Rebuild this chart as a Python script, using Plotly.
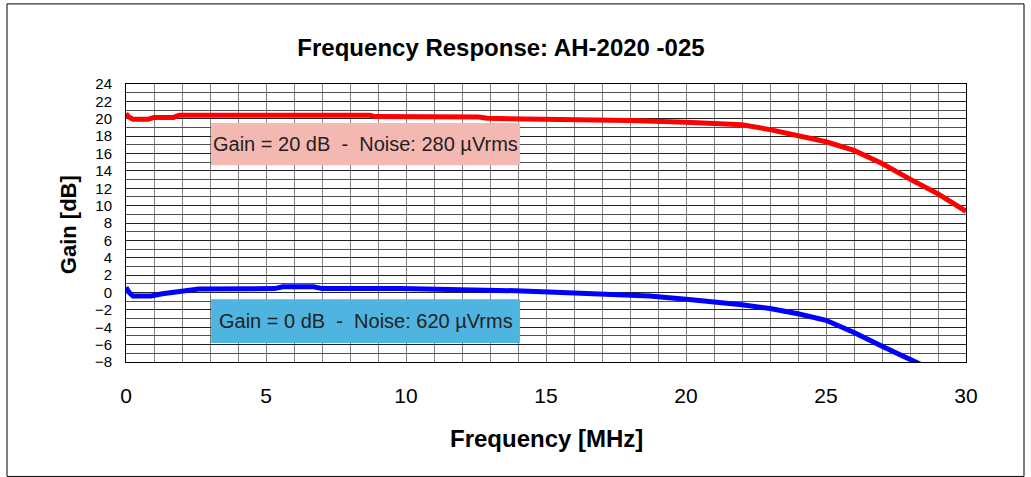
import plotly.graph_objects as go

# Data
freq_red = [0, 0.1, 0.25, 0.8, 1.0, 1.7, 1.9, 8.7, 8.9, 12.6, 12.9, 16.0, 18.0, 20.0,
            21.0, 22.0, 23.0, 24.0, 25.0, 26.0, 27.0, 28.0, 29.0, 30.0]
gain_red = [20.6, 20.2, 19.95, 19.95, 20.15, 20.15, 20.4, 20.4, 20.25, 20.2, 20.05, 19.95, 19.8, 19.6,
            19.45, 19.3, 18.75, 18.05, 17.35, 16.35, 14.85, 13.05, 11.35, 9.35]

freq_blue = [0, 0.1, 0.25, 0.9, 1.3, 1.9, 2.6, 5.3, 5.6, 6.7, 7.0, 9.8, 12.1, 13.9, 15.1,
             16.9, 18.7, 20.1, 21.0, 22.0, 23.0, 24.0, 25.0, 26.0, 27.0, 28.0, 28.6]
gain_blue = [0.6, 0.05, -0.4, -0.4, -0.15, 0.05, 0.4, 0.45, 0.65, 0.65, 0.45, 0.45, 0.35, 0.2, 0.05,
             -0.15, -0.4, -0.8, -1.05, -1.4, -1.85, -2.45, -3.2, -4.6, -6.2, -7.6, -8.6]

label_red = "Gain = 20 dB\u00a0\u00a0-\u00a0\u00a0Noise: 280 \u00b5Vrms"
label_blue = "Gain = 0 dB\u00a0\u00a0-\u00a0\u00a0Noise: 620 \u00b5Vrms"
title_text = "<b>Frequency Response: AH-2020 -025</b>"
x_title = "<b>Frequency [MHz]</b>"
y_title = "<b>Gain [dB]</b>"

FONT = "Liberation Sans, Arial, sans-serif"
W, H = 1031, 477
L, R, T, B = 126, 966, 84, 361.7

def px_x(p):
    return (p - L) / (R - L)

def px_y(p):
    return (B - p) / (B - T)

fig = go.Figure()
fig.add_trace(go.Scatter(x=freq_red, y=gain_red, mode="lines",
                         line=dict(color="#ff0000", width=5), showlegend=False))
fig.add_trace(go.Scatter(x=freq_blue, y=gain_blue, mode="lines",
                         line=dict(color="#0000ff", width=5), showlegend=False))

# annotation boxes (drawn over the grid)
fig.add_shape(type="rect", xref="x", yref="y", x0=3.04, x1=14.07, y0=14.65, y1=19.5,
              fillcolor="#f4b8b3", line=dict(width=0), layer="above")
fig.add_shape(type="rect", xref="x", yref="y", x0=3.04, x1=14.07, y0=-5.8, y1=-0.77,
              fillcolor="#4fb4e0", line=dict(width=0), layer="above")
fig.add_annotation(x=(3.04 + 14.07) / 2, y=(14.65 + 19.5) / 2, xref="x", yref="y",
                   xanchor="center", yanchor="middle",
                   text=label_red, showarrow=False, font=dict(family=FONT, size=20, color="#222222"))
fig.add_annotation(x=(3.04 + 14.07) / 2, y=(-5.8 - 0.77) / 2, xref="x", yref="y",
                   xanchor="center", yanchor="middle",
                   text=label_blue, showarrow=False, font=dict(family=FONT, size=20, color="#222222"))

# axis titles
fig.add_annotation(x=px_x(68), y=px_y(225), xref="paper", yref="paper", text=y_title,
                   xanchor="center", yanchor="middle",
                   textangle=-90, showarrow=False, font=dict(family=FONT, size=22, color="black"))
fig.add_annotation(x=px_x(546), y=px_y(438), xref="paper", yref="paper", text=x_title,
                   xanchor="center", yanchor="middle",
                   showarrow=False, font=dict(family=FONT, size=24, color="black"))

# outer frame
fig.add_shape(type="rect", xref="paper", yref="paper", x0=px_x(7), x1=px_x(1024),
              y0=px_y(476), y1=px_y(4), line=dict(color="black", width=1), fillcolor="rgba(0,0,0,0)")

fig.update_layout(
    width=W, height=H,
    margin=dict(l=L, r=W - R, t=T, b=H - B, pad=0),
    paper_bgcolor="white", plot_bgcolor="white",
    title=dict(text=title_text, x=501 / W, xref="container", xanchor="center",
               y=1 - 48 / H, yref="container", yanchor="middle",
               font=dict(family=FONT, size=24, color="black")),
    font=dict(family=FONT, color="black"),
)
fig.update_xaxes(range=[0, 30], dtick=5, tick0=0, showgrid=True, gridcolor="#808080", gridwidth=1,
                 minor=dict(dtick=1, showgrid=True, gridcolor="#808080", gridwidth=1),
                 showline=True, linecolor="black", linewidth=1, mirror=True,
                 ticks="", ticklabelstandoff=15, zeroline=False,
                 tickfont=dict(family=FONT, size=21, color="black"))
fig.update_yaxes(range=[-8, 24], dtick=2, tick0=0, showgrid=True, gridcolor="#202020", gridwidth=1,
                 minor=dict(dtick=1, showgrid=True, gridcolor="#505050", gridwidth=1),
                 showline=True, linecolor="black", linewidth=1, mirror=True,
                 ticks="", ticklabelstandoff=10, zeroline=False,
                 tickfont=dict(family=FONT, size=15, color="black"))

fig.write_html("out.html", config={"displayModeBar": False},
               post_script="document.body.style.margin='0';document.body.style.overflow='hidden';")
